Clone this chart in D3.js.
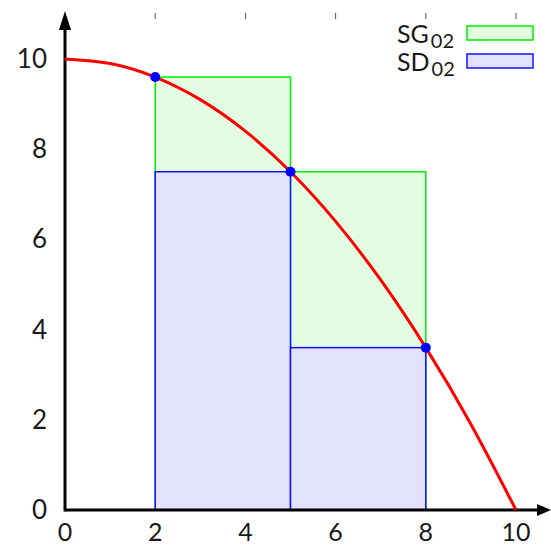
<!DOCTYPE html>
<html>
<head>
<meta charset="utf-8">
<script src="https://cdn.jsdelivr.net/npm/d3@7"></script>
<style>
  html, body { margin: 0; padding: 0; background: #fff; }
  svg { display: block; }
  text { font-family: Lato, "Open Sans", sans-serif; fill: #1a1a1a; }
</style>
</head>
<body>
<svg id="chart" width="551" height="547"></svg>
<script>
// Graph of f(x) sampled at integer x
const curveX = [0, 1, 2, 3, 4, 5, 6, 7, 8, 9, 10];
const curveY = [10, 9.9, 9.6, 9.1, 8.4, 7.5, 6.4, 5.1, 3.6, 1.9, 0];

// Partition of [2, 8] into two subintervals
const partition = [2, 5, 8];
// Upper (SG) and lower (SD) Darboux heights per subinterval
const upperHeights = [9.6, 7.5];
const lowerHeights = [7.5, 3.6];

// Points of the graph at the partition nodes
const nodeX = [2, 5, 8];
const nodeY = [9.6, 7.5, 3.6];

const xTicks = [0, 2, 4, 6, 8, 10];
const yTicks = [0, 2, 4, 6, 8, 10];
const legendLabels = [["SG", "02"], ["SD", "02"]];

const svg = d3.select("#chart");
const x = d3.scaleLinear().domain([0, 10]).range([65, 516]);
const y = d3.scaleLinear().domain([0, 10]).range([510, 59]);

const green = { stroke: "#00ee00", fill: "#e2fde2" };
const blue = { stroke: "#1010ff", fill: "#e2e2fe" };

// Upper-sum rectangles
svg.append("g").selectAll("rect")
  .data(upperHeights)
  .join("rect")
  .attr("x", (d, i) => x(partition[i]))
  .attr("width", (d, i) => x(partition[i + 1]) - x(partition[i]))
  .attr("y", d => y(d))
  .attr("height", d => y(0) - y(d))
  .attr("fill", green.fill)
  .attr("stroke", green.stroke)
  .attr("stroke-width", 1.5);

// Lower-sum rectangles
svg.append("g").selectAll("rect")
  .data(lowerHeights)
  .join("rect")
  .attr("x", (d, i) => x(partition[i]))
  .attr("width", (d, i) => x(partition[i + 1]) - x(partition[i]))
  .attr("y", d => y(d))
  .attr("height", d => y(0) - y(d))
  .attr("fill", blue.fill)
  .attr("stroke", blue.stroke)
  .attr("stroke-width", 1.5);

// Mirror ticks along the top
svg.append("g").selectAll("line")
  .data(xTicks.filter(d => d > 0))
  .join("line")
  .attr("x1", d => x(d)).attr("x2", d => x(d))
  .attr("y1", 13).attr("y2", 19)
  .attr("stroke", "#555").attr("stroke-width", 1);

// Axes with arrowheads
const axes = svg.append("g");
axes.append("line")
  .attr("x1", x(0)).attr("y1", y(0))
  .attr("x2", 541).attr("y2", y(0))
  .attr("stroke", "#000").attr("stroke-width", 3);
axes.append("path")
  .attr("d", `M551,${y(0)} L537,${y(0) - 6} L537,${y(0) + 6} Z`)
  .attr("fill", "#000");
axes.append("line")
  .attr("x1", x(0)).attr("y1", y(0) + 1.5)
  .attr("x2", x(0)).attr("y2", 26)
  .attr("stroke", "#000").attr("stroke-width", 3);
axes.append("path")
  .attr("d", `M${x(0)},11 L${x(0) - 6},30 L${x(0) + 6},30 Z`)
  .attr("fill", "#000");

// Tick labels
svg.append("g").selectAll("text")
  .data(xTicks)
  .join("text")
  .attr("x", d => x(d))
  .attr("y", 541)
  .attr("text-anchor", "middle")
  .attr("font-size", 25)
  .text(d => d);

svg.append("g").selectAll("text")
  .data(yTicks)
  .join("text")
  .attr("x", 47)
  .attr("y", d => y(d) + 9)
  .attr("text-anchor", "end")
  .attr("font-size", 26)
  .text(d => d);

// Graph of f
const line = d3.line()
  .x(d => x(d[0]))
  .y(d => y(d[1]))
  .curve(d3.curveNatural);
svg.append("path")
  .datum(curveX.map((v, i) => [v, curveY[i]]))
  .attr("d", line)
  .attr("fill", "none")
  .attr("stroke", "#ff0000")
  .attr("stroke-width", 3);

// Nodes on the graph
svg.append("g").selectAll("circle")
  .data(nodeX)
  .join("circle")
  .attr("cx", d => x(d))
  .attr("cy", (d, i) => y(nodeY[i]))
  .attr("r", 5)
  .attr("fill", "#0000ff");

// Legend
const legend = svg.append("g");
const legendStyles = [green, blue];
legendLabels.forEach((lab, i) => {
  const yy = 33 + i * 28;
  const t = legend.append("text")
    .attr("x", 397)
    .attr("y", yy + 10)
    .attr("font-size", 25);
  t.append("tspan").text(lab[0]);
  t.append("tspan").attr("dy", 5).attr("dx", 2).attr("font-size", 20).text(lab[1]);
  legend.append("rect")
    .attr("x", 467).attr("y", yy - 7)
    .attr("width", 66).attr("height", 14)
    .attr("fill", legendStyles[i].fill)
    .attr("stroke", legendStyles[i].stroke)
    .attr("stroke-width", 1.5);
});
</script>
</body>
</html>
